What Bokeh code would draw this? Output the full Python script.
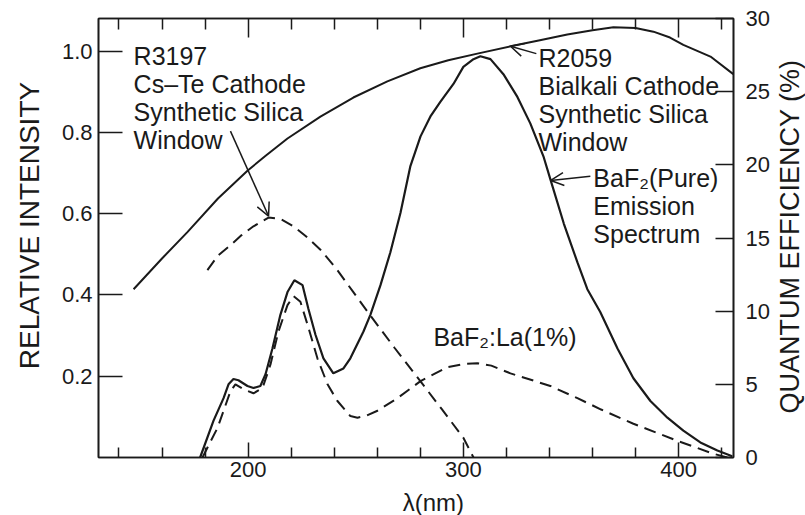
import math
import numpy as np
from bokeh.plotting import figure
from bokeh.layouts import row, column
from bokeh.models import (LinearAxis, Range1d, FixedTicker, Label, Arrow, OpenHead,
                          PrintfTickFormatter, CustomLabelingPolicy)
from bokeh.embed import file_html
from bokeh.resources import INLINE

# ---------------- data ----------------
# R2059 bialkali cathode quantum efficiency (%), right axis
r2059_nm = [146.8, 160, 171.8, 186, 199.7, 208, 218.3, 233.6, 248.9, 264.7, 280, 293,
            306.5, 321.9, 335, 348.3, 360, 369.7, 380, 388.3, 396, 402.2, 414.8, 425.4]
r2059_qe = [11.5, 13.6, 15.4, 17.7, 19.6, 20.6, 21.8, 23.3, 24.6, 25.7, 26.6, 27.15,
            27.6, 28.1, 28.5, 28.9, 29.2, 29.4, 29.35, 29.1, 28.7, 28.2, 27.4, 26.2]

# R3197 Cs-Te cathode quantum efficiency (%), right axis
r3197_nm = [181.1, 186, 191.8, 197, 202.5, 209.5, 215, 221.1, 227, 233.6, 241, 248.9,
            256.8, 268, 280.1, 290, 300.0, 304.7]
r3197_qe = [12.8, 13.8, 14.5, 15.2, 15.8, 16.4, 16.3, 15.8, 15.1, 14.2, 12.9, 11.3,
            9.7, 7.5, 5.2, 3.3, 1.35, 0.0]

# BaF2 (pure) emission spectrum, relative intensity, left axis
baf2_pure_nm = [177.7, 183.9, 188.6, 190.9, 193.2, 195.5, 199.7, 202.5, 205.7, 208.1, 211.3,
                215.0, 218.3, 221.5, 225.3, 228.0, 231.3, 235.0, 239.6, 244.3, 247.5, 253.6,
                256.8, 261.5, 266.1, 270.8, 275.4, 280.1, 284.7, 289.3, 295.4, 300.0, 304.7,
                307.9, 312.6, 318.6, 325.1, 331.1, 337.2, 340.4, 346.7, 353.0, 357.6, 363.6,
                371.6, 379.0, 386.9, 394.8, 402.2, 410.1, 418.0, 424.9]
baf2_pure_rel = [0.0, 0.090, 0.146, 0.180, 0.193, 0.190, 0.176, 0.171, 0.176, 0.205, 0.268,
                 0.351, 0.407, 0.436, 0.424, 0.366, 0.302, 0.244, 0.207, 0.219, 0.244, 0.310,
                 0.351, 0.424, 0.505, 0.602, 0.717, 0.790, 0.839, 0.875, 0.919, 0.961, 0.980,
                 0.987, 0.980, 0.943, 0.887, 0.822, 0.741, 0.685, 0.575, 0.480, 0.414, 0.358,
                 0.268, 0.195, 0.139, 0.098, 0.066, 0.037, 0.017, 0.003]

# BaF2:La(1%) emission spectrum, relative intensity, left axis
baf2_la_nm = [178.8, 185.8, 191.8, 194.1, 197.8, 202.5, 206.7, 210.4, 214.1, 218.3, 221.1,
              224.3, 227.6, 232.2, 236.9, 241.5, 247.5, 250.8, 255, 260.1, 269.4, 280.1,
              292.6, 300, 306.5, 313, 321.9, 340.4, 353, 364, 379, 399.4, 415.7, 422.6]
baf2_la_rel = [0.0, 0.073, 0.163, 0.180, 0.168, 0.158, 0.171, 0.229, 0.310, 0.375, 0.397,
               0.383, 0.327, 0.244, 0.180, 0.139, 0.102, 0.098, 0.103, 0.115, 0.146, 0.188,
               0.222, 0.230, 0.232, 0.226, 0.207, 0.176, 0.146, 0.118, 0.083, 0.041, 0.010, 0.0]

x_major_ticks = [200, 300, 400]
x_minor_ticks = [140, 160, 180, 220, 240, 260, 280, 320, 340, 360, 380, 420]
left_ticks = [0.2, 0.4, 0.6, 0.8, 1.0]
right_ticks = [0, 5, 10, 15, 20, 25, 30]

INK = "#1a1a1a"
FONT = "Liberation Sans"
H = 515
W_LEFT, W_MAIN, W_RIGHT = 44, 728, 33
H_MAIN, H_BOTTOM = 488, 27

# ---------------- main figure ----------------
p = figure(width=W_MAIN, height=H_MAIN, x_range=Range1d(130.5, 425.5), y_range=Range1d(0, 1.08),
           output_backend="svg", toolbar_location=None,
           x_axis_location=None, y_axis_location=None,
           min_border_left=54, min_border_right=39, min_border_top=14, min_border_bottom=31,
           background_fill_color="white", border_fill_color="white")
p.extra_y_ranges = {"qe": Range1d(0, 30)}
p.outline_line_color = INK
p.outline_line_width = 1.6
p.xgrid.visible = False
p.ygrid.visible = False


def style_axis(ax, tick_in, minor_in=0, label_size="22px", standoff=6):
    ax.axis_line_color = INK
    ax.axis_line_width = 1.6
    ax.major_tick_line_color = INK
    ax.major_tick_line_width = 1.5
    ax.major_tick_in = tick_in
    ax.major_tick_out = 0
    ax.minor_tick_line_color = INK
    ax.minor_tick_line_width = 1.5
    ax.minor_tick_in = minor_in
    ax.minor_tick_out = 0
    ax.major_label_text_font = FONT
    ax.major_label_text_font_size = label_size
    ax.major_label_text_color = INK
    ax.major_label_standoff = standoff


left_axis = LinearAxis(ticker=FixedTicker(ticks=left_ticks),
                       formatter=PrintfTickFormatter(format="%.1f"))
style_axis(left_axis, 24, standoff=6)
p.add_layout(left_axis, "left")

right_axis = LinearAxis(y_range_name="qe", ticker=FixedTicker(ticks=right_ticks))
style_axis(right_axis, 18, standoff=12)
p.add_layout(right_axis, "right")

bottom_axis = LinearAxis(ticker=FixedTicker(ticks=x_major_ticks, minor_ticks=x_minor_ticks))
style_axis(bottom_axis, 15, minor_in=10, standoff=4)
p.add_layout(bottom_axis, "below")

top_axis = LinearAxis(ticker=FixedTicker(ticks=x_major_ticks, minor_ticks=x_minor_ticks),
                      major_label_policy=CustomLabelingPolicy(code=""))
style_axis(top_axis, 19, minor_in=11, standoff=0)
p.add_layout(top_axis, "above")

# ---------------- curves ----------------
p.line(r2059_nm, r2059_qe, y_range_name="qe", line_color=INK, line_width=2)
p.line(r3197_nm, r3197_qe, y_range_name="qe", line_color=INK, line_width=2, line_dash="12 7")
p.line(baf2_pure_nm, baf2_pure_rel, line_color=INK, line_width=2.2)
p.line(baf2_la_nm, baf2_la_rel, line_color=INK, line_width=2, line_dash="12 7")

# ---------------- annotations ----------------
def note(x, y, text, size="25px", **kw):
    lab = Label(x=x, y=y, text=text, text_font=FONT, text_font_size=size, text_color=INK,
                text_align="left", text_baseline="top", text_line_height=1.0, **kw)
    p.add_layout(lab)


note(146.8, 1.021, "R3197\nCs\u2013Te Cathode\nSynthetic Silica\nWindow")
note(334.9, 1.017, "R2059\nBialkali Cathode\nSynthetic Silica\nWindow")
note(360.4, 0.722, "BaF\u2082(Pure)\nEmission\nSpectrum")
note(286.1, 0.332, "BaF\u2082:La(1%)")

# arrows pointing at the curves
i_pk = int(np.argmax(r3197_qe))
p.add_layout(Arrow(end=OpenHead(size=13, line_color=INK, line_width=1.5),
                   x_start=191.8, y_start=22.3, x_end=r3197_nm[i_pk], y_end=r3197_qe[i_pk] + 0.1,
                   y_range_name="qe", line_color=INK, line_width=1.5))
x_r2059 = 321.9
p.add_layout(Arrow(end=OpenHead(size=13, line_color=INK, line_width=1.5),
                   x_start=333.9, y_start=27.6, x_end=x_r2059,
                   y_end=float(np.interp(x_r2059, r2059_nm, r2059_qe)),
                   y_range_name="qe", line_color=INK, line_width=1.5))
x_pure = 340.6
p.add_layout(Arrow(end=OpenHead(size=13, line_color=INK, line_width=1.5),
                   x_start=359.0, y_start=0.692, x_end=x_pure,
                   y_end=float(np.interp(x_pure, baf2_pure_nm, baf2_pure_rel)),
                   line_color=INK, line_width=1.5))


# ---------------- strips carrying the axis titles ----------------
def title_strip(width, height, text, cx, cy, size, angle):
    f = figure(width=width, height=height, x_range=Range1d(0, width), y_range=Range1d(0, height),
               output_backend="svg", toolbar_location=None,
               x_axis_location=None, y_axis_location=None,
               min_border_left=0, min_border_right=0, min_border_top=0, min_border_bottom=0,
               background_fill_color="white", border_fill_color="white")
    f.outline_line_color = None
    f.xgrid.visible = False
    f.ygrid.visible = False
    f.add_layout(Label(x=cx, y=height - cy, text=text, angle=angle,
                       text_font=FONT, text_font_size=size, text_color=INK,
                       text_align="center", text_baseline="middle"))
    return f


left_strip = title_strip(W_LEFT, H, "RELATIVE INTENSITY", 29, 225, "28px", math.pi / 2)
right_strip = title_strip(W_RIGHT, H, "QUANTUM EFFICIENCY (%)", 17, 236, "27px", math.pi / 2)
bottom_strip = title_strip(W_MAIN, H_BOTTOM, "\u03bb(nm)", 428 - W_LEFT, 13.5, "24px", 0)

layout = row(left_strip, column(p, bottom_strip, spacing=0), right_strip, spacing=0)
open("out.html", "w").write(file_html(layout, INLINE))
